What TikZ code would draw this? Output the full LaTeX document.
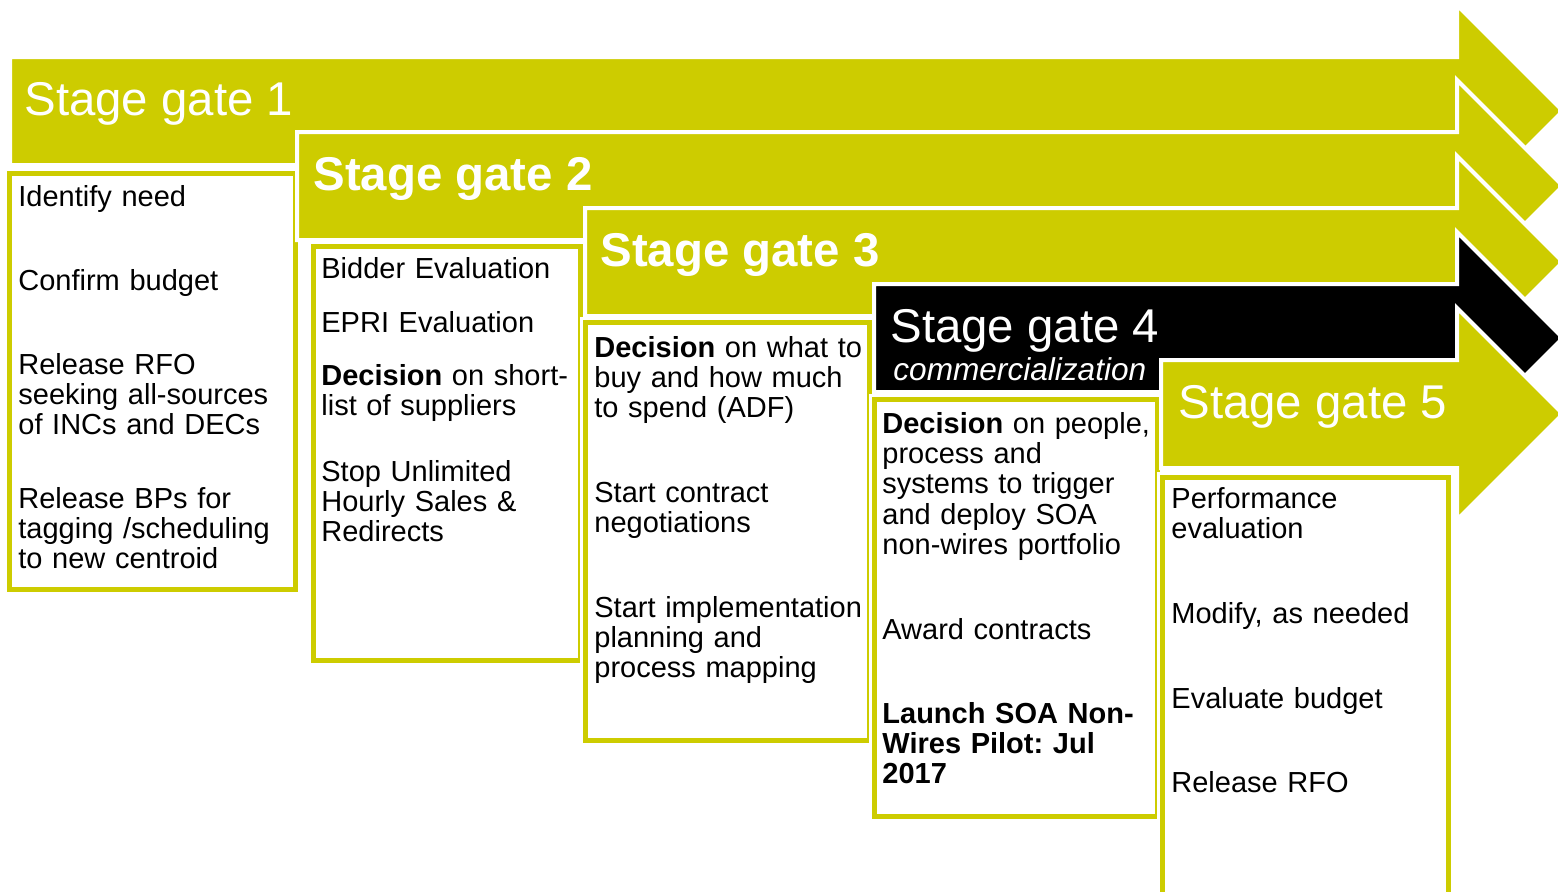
\documentclass[tikz,border=0pt]{standalone}
\usepackage{fontspec}
\setmainfont{Liberation Sans}
\usetikzlibrary{positioning}
\frenchspacing

\definecolor{gateyellow}{RGB}{205,204,0}

% one stage gate arrow: left x, bar top y, fill colour
\newcommand{\gatearrow}[3]{%
  \path[gate, fill=#3] (#1,#2) -- (1457,#2) -- (1457,#2-52) -- (1563,#2+54)
    -- (1457,#2+160) -- (1457,#2+108) -- (#1,#2+108) -- cycle;}

\begin{document}
\begin{tikzpicture}[
    x=0.5pt, y=-0.5pt,
    gate/.style = {draw=white, line width=2pt, line join=miter},
    box/.style = {fill=white, draw=gateyellow, line width=2.5pt,
                  preaction={draw=white, line width=5pt}},
    gatetext/.style = {anchor=base west, inner sep=0pt, text=white,
                       font=\fontsize{23.7pt}{28pt}\selectfont},
    item/.style = {anchor=base west, inner sep=0pt, text width=140pt, align=left,
                   font=\fontsize{14.5pt}{15.2pt}\selectfont}
  ]
  \useasboundingbox (0,0) rectangle (1558,891);

  % arrows and their boxes, back to front
  \foreach \L/\T/\c/\bl/\bt/\br/\bb in {
      10/57/gateyellow/9/173/295/589,
      297/132/gateyellow/313/246/580/660,
      585/208/gateyellow/585/322/869/740,
      874/284/black/874/399/1157/816,
      1161/360/gateyellow/1162/477/1448/900} {
    \gatearrow{\L}{\T}{\c}
    \draw[box] (\bl,\bt) rectangle (\br,\bb);
  }

  % Gate titles
  \node[gatetext] (sg1) at (24,115) {Stage gate 1};
  \node[gatetext, font=\fontsize{23.7pt}{28pt}\selectfont\bfseries] (sg2) at (313,190) {Stage gate 2};
  \node[gatetext, font=\fontsize{23.7pt}{28pt}\selectfont\bfseries] (sg3) at (600,266) {Stage gate 3};
  \node[gatetext] (sg4) at (890,342) {Stage gate 4};
  \node[gatetext, font=\fontsize{15.8pt}{18pt}\selectfont\itshape] (comm) at (893,380) {commercialization};
  \node[gatetext] (sg5) at (1178,418) {Stage gate 5};

  % Gate 1 items
  \node[item] (need) at (18,206) {Identify need};
  \node[item] (budget) at (18,290) {Confirm budget};
  \node[item] (rfo) at (18,374) {Release RFO\\seeking all-sources\\of INCs and DECs};
  \node[item] (bps) at (18,508) {Release BPs for\\tagging /scheduling\\to new centroid};

  % Gate 2 items
  \node[item] (bidder) at (321,278) {Bidder Evaluation};
  \node[item] (epri) at (321,332) {EPRI Evaluation};
  \node[item] (shortlist) at (321,385) {\textbf{Decision} on short-\\list of suppliers};
  \node[item] (stop) at (321,481) {Stop Unlimited\\Hourly Sales \&\\Redirects};

  % Gate 3 items
  \node[item] (spend) at (594,357) {\textbf{Decision} on what to\\buy and how much\\to spend (ADF)};
  \node[item] (contract) at (594,502) {Start contract\\negotiations};
  \node[item] (implement) at (594,617) {Start implementation\\planning and\\process mapping};

  % Gate 4 items
  \node[item] (people) at (882,433) {\textbf{Decision} on people,\\process and\\systems to trigger\\and deploy SOA\\non-wires portfolio};
  \node[item] (award) at (882,639) {Award contracts};
  \node[item, font=\fontsize{14.5pt}{15.2pt}\selectfont\bfseries] (pilot) at (882,723) {Launch SOA Non-\\Wires Pilot: Jul\\2017};

  % Gate 5 items
  \node[item] (perf) at (1171,508) {Performance\\evaluation};
  \node[item] (modify) at (1171,623) {Modify, as needed};
  \node[item] (evalbudget) at (1171,708) {Evaluate budget};
  \node[item] (rfo5) at (1171,792) {Release RFO};
\end{tikzpicture}
\end{document}
